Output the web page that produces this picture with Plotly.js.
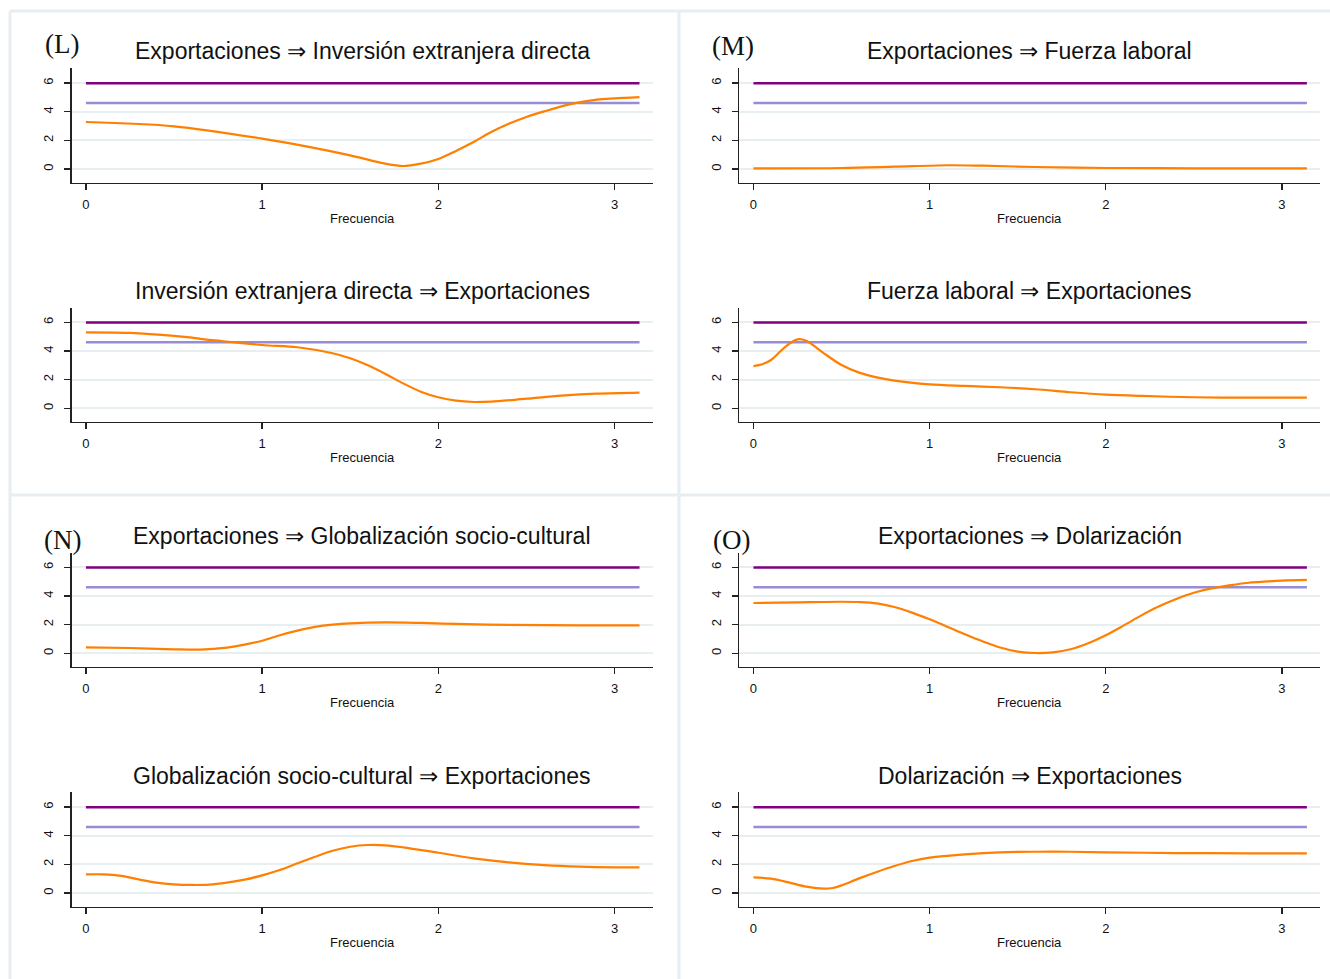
<!DOCTYPE html>
<html>
<head>
<meta charset="utf-8">
<script src="https://cdn.plot.ly/plotly-3.0.1.min.js"></script>
<style>
  html, body { margin: 0; padding: 0; background: #ffffff; }
  #chart { width: 1330px; height: 979px; }
</style>
</head>
<body>
<div id="chart"></div>
<script>
// ---------------- DATA ----------------
// Critical values (chi-square, 2 df): 5% and 10%
const crit5 = 5.99;
const crit10 = 4.61;
const critX = [0, 3.1416];

// (L) Exportaciones => Inversión extranjera directa
const xL1 = [0, 0.5, 1.0, 1.25, 1.5, 1.7, 1.8, 1.9, 2.0, 2.1, 2.2, 2.3, 2.4, 2.5, 2.6, 2.75, 2.9, 3.0, 3.1416];
const yL1 = [3.28, 2.98, 2.12, 1.58, 0.95, 0.37, 0.21, 0.37, 0.70, 1.26, 1.88, 2.58, 3.16, 3.63, 4.02, 4.53, 4.84, 4.93, 5.02];

// (L) Inversión extranjera directa => Exportaciones
const xL2 = [0, 0.25, 0.5, 0.75, 1.0, 1.2, 1.4, 1.5, 1.6, 1.7, 1.8, 1.9, 2.0, 2.1, 2.2, 2.3, 2.5, 2.7, 2.9, 3.1416];
const yL2 = [5.30, 5.26, 5.05, 4.72, 4.42, 4.26, 3.84, 3.49, 3.00, 2.40, 1.74, 1.16, 0.77, 0.53, 0.44, 0.47, 0.67, 0.88, 1.02, 1.09];

// (M) Exportaciones => Fuerza laboral
const xM1 = [0, 0.5, 0.8, 1.1, 1.3, 1.6, 2.0, 2.5, 3.1416];
const yM1 = [0.05, 0.07, 0.16, 0.26, 0.23, 0.14, 0.07, 0.05, 0.05];

// (M) Fuerza laboral => Exportaciones
const xM2 = [0, 0.05, 0.1, 0.15, 0.2, 0.25, 0.3, 0.35, 0.4, 0.5, 0.6, 0.7, 0.8, 1.0, 1.2, 1.4, 1.6, 1.8, 2.0, 2.2, 2.5, 2.8, 3.1416];
const yM2 = [2.95, 3.07, 3.37, 3.95, 4.47, 4.81, 4.72, 4.30, 3.84, 3.02, 2.49, 2.16, 1.93, 1.67, 1.56, 1.47, 1.33, 1.12, 0.95, 0.86, 0.77, 0.74, 0.74];

// (N) Exportaciones => Globalización socio-cultural
const xN1 = [0, 0.25, 0.5, 0.65, 0.8, 0.9, 1.0, 1.1, 1.2, 1.3, 1.4, 1.5, 1.7, 1.9, 2.1, 2.4, 2.8, 3.1416];
const yN1 = [0.42, 0.37, 0.28, 0.26, 0.40, 0.60, 0.88, 1.26, 1.58, 1.84, 2.00, 2.09, 2.16, 2.12, 2.05, 1.98, 1.95, 1.95];

// (N) Globalización socio-cultural => Exportaciones
const xN2 = [0, 0.1, 0.2, 0.3, 0.4, 0.5, 0.6, 0.7, 0.8, 0.9, 1.0, 1.1, 1.2, 1.3, 1.4, 1.5, 1.6, 1.7, 1.8, 2.0, 2.2, 2.4, 2.6, 2.8, 3.0, 3.1416];
const yN2 = [1.30, 1.30, 1.19, 0.95, 0.72, 0.60, 0.56, 0.58, 0.72, 0.93, 1.23, 1.60, 2.07, 2.53, 2.95, 3.23, 3.35, 3.33, 3.19, 2.81, 2.42, 2.14, 1.95, 1.84, 1.79, 1.79];

// (O) Exportaciones => Dolarización
const xO1 = [0, 0.25, 0.5, 0.6, 0.7, 0.8, 0.9, 1.0, 1.1, 1.2, 1.3, 1.4, 1.5, 1.6, 1.7, 1.8, 1.9, 2.0, 2.1, 2.2, 2.3, 2.4, 2.5, 2.6, 2.7, 2.8, 3.0, 3.1416];
const yO1 = [3.51, 3.56, 3.60, 3.58, 3.49, 3.23, 2.84, 2.37, 1.86, 1.33, 0.84, 0.40, 0.12, 0.02, 0.07, 0.28, 0.70, 1.26, 1.93, 2.63, 3.26, 3.79, 4.23, 4.53, 4.74, 4.91, 5.07, 5.12];

// (O) Dolarización => Exportaciones
const xO2 = [0, 0.1, 0.2, 0.3, 0.4, 0.45, 0.5, 0.6, 0.7, 0.8, 0.9, 1.0, 1.2, 1.4, 1.6, 1.8, 2.0, 2.4, 2.8, 3.1416];
const yO2 = [1.09, 1.00, 0.74, 0.44, 0.30, 0.35, 0.53, 1.02, 1.47, 1.88, 2.23, 2.47, 2.70, 2.84, 2.88, 2.88, 2.84, 2.79, 2.77, 2.77];

// Titles & labels
const subplotTitles = [
  "Exportaciones \u21D2 Inversión extranjera directa",
  "Inversión extranjera directa \u21D2 Exportaciones",
  "Exportaciones \u21D2 Fuerza laboral",
  "Fuerza laboral \u21D2 Exportaciones",
  "Exportaciones \u21D2 Globalización socio-cultural",
  "Globalización socio-cultural \u21D2 Exportaciones",
  "Exportaciones \u21D2 Dolarización",
  "Dolarización \u21D2 Exportaciones"
];
const panelLabels = ["(L)", "(M)", "(N)", "(O)"];
const xAxisTitle = "Frecuencia";
const xTicks = [0, 1, 2, 3];
const yTicks = [0, 2, 4, 6];

// ---------------- LAYOUT ----------------
const W = 1330, H = 979;
const px = v => v / W;
const py = v => 1 - v / H;

const colX = [[71.5, 652.6], [739, 1320]];           // pixel extents of plot areas
const rowY = [[68.3, 182.6], [307.6, 421.9], [552.6, 666.9], [792.3, 906.6]];
const titleY = [51, 291, 536, 776];

const subs = [
  {c: 0, r: 0, x: xL1, y: yL1},
  {c: 0, r: 1, x: xL2, y: yL2},
  {c: 1, r: 0, x: xM1, y: yM1},
  {c: 1, r: 1, x: xM2, y: yM2},
  {c: 0, r: 2, x: xN1, y: yN1},
  {c: 0, r: 3, x: xN2, y: yN2},
  {c: 1, r: 2, x: xO1, y: yO1},
  {c: 1, r: 3, x: xO2, y: yO2}
];

const FONT = "Liberation Sans, Arial, Helvetica, sans-serif";
const GRID = "#e8eff1";
const traces = [];
const layout = {
  width: W, height: H,
  margin: {l: 0, r: 0, t: 0, b: 0},
  paper_bgcolor: "#ffffff",
  plot_bgcolor: "#ffffff",
  showlegend: false,
  font: {family: FONT, color: "#111"},
  annotations: [],
  shapes: []
};

subs.forEach((s, i) => {
  const n = i + 1;
  const xa = "x" + (n === 1 ? "" : n), ya = "y" + (n === 1 ? "" : n);
  const xk = "xaxis" + (n === 1 ? "" : n), yk = "yaxis" + (n === 1 ? "" : n);
  const cx = colX[s.c], ry = rowY[s.r];
  layout[xk] = {
    domain: [px(cx[0]), px(cx[1])],
    anchor: ya,
    range: [-0.082, 3.216],
    tickvals: xTicks, ticktext: xTicks.map(String),
    ticks: "outside", ticklen: 6, tickwidth: 1.3, tickcolor: "#222",
    ticklabelstandoff: 3,
    showline: true, linecolor: "#222", linewidth: 1.3,
    showgrid: false, zeroline: false,
    tickfont: {family: FONT, size: 13, color: "#111"},
    fixedrange: true
  };
  layout[yk] = {
    domain: [py(ry[1]), py(ry[0])],
    anchor: xa,
    range: [-0.95, 7.03],
    tickvals: yTicks, ticktext: yTicks.map(String),
    tickangle: -90,
    ticks: "outside", ticklen: 6, tickwidth: 1.3, tickcolor: "#222",
    ticklabelstandoff: 6,
    showline: true, linecolor: "#222", linewidth: 1.3,
    showgrid: true, gridcolor: GRID, gridwidth: 2,
    zeroline: false,
    tickfont: {family: FONT, size: 13, color: "#111"},
    fixedrange: true
  };
  traces.push({x: critX, y: critX.map(() => crit10), xaxis: xa, yaxis: ya, mode: "lines",
    line: {color: "#978dd4", width: 2.5}, hoverinfo: "skip"});
  traces.push({x: critX, y: critX.map(() => crit5), xaxis: xa, yaxis: ya, mode: "lines",
    line: {color: "#80007f", width: 2.5}, hoverinfo: "skip"});
  traces.push({x: s.x, y: s.y, xaxis: xa, yaxis: ya, mode: "lines",
    line: {color: "#ff7f00", width: 2.2, shape: "spline", smoothing: 0.9}, hoverinfo: "skip"});

  const midX = px((cx[0] + cx[1]) / 2);
  layout.annotations.push({
    text: subplotTitles[i], xref: "paper", yref: "paper",
    x: midX, y: py(titleY[s.r]), xanchor: "center", yanchor: "middle",
    showarrow: false, font: {family: FONT, size: 23, color: "#111"}
  });
  layout.annotations.push({
    text: xAxisTitle, xref: "paper", yref: "paper",
    x: midX, y: py(ry[1] + 36), xanchor: "center", yanchor: "middle",
    showarrow: false, font: {family: FONT, size: 13, color: "#111"}
  });
});

const labelPos = [[62, 44], [733, 46], [62, 540], [731, 540]];
panelLabels.forEach((t, k) => {
  layout.annotations.push({
    text: t, xref: "paper", yref: "paper",
    x: px(labelPos[k][0]), y: py(labelPos[k][1]), xanchor: "center", yanchor: "middle",
    showarrow: false, font: {family: "Liberation Serif, Times New Roman, serif", size: 27, color: "#111"}
  });
});

const BORDER = "#e6eef1";
const bl = (x0, y0, x1, y1) => ({type: "line", xref: "paper", yref: "paper",
  x0: px(x0), y0: py(y0), x1: px(x1), y1: py(y1), line: {color: BORDER, width: 3}, layer: "below"});
layout.shapes.push(bl(10, 11, 1330, 11));
layout.shapes.push(bl(10, 11, 10, 979));
layout.shapes.push(bl(679, 11, 679, 979));
layout.shapes.push(bl(10, 495, 1330, 495));

Plotly.newPlot("chart", traces, layout, {displayModeBar: false, staticPlot: true});
</script>
</body>
</html>
